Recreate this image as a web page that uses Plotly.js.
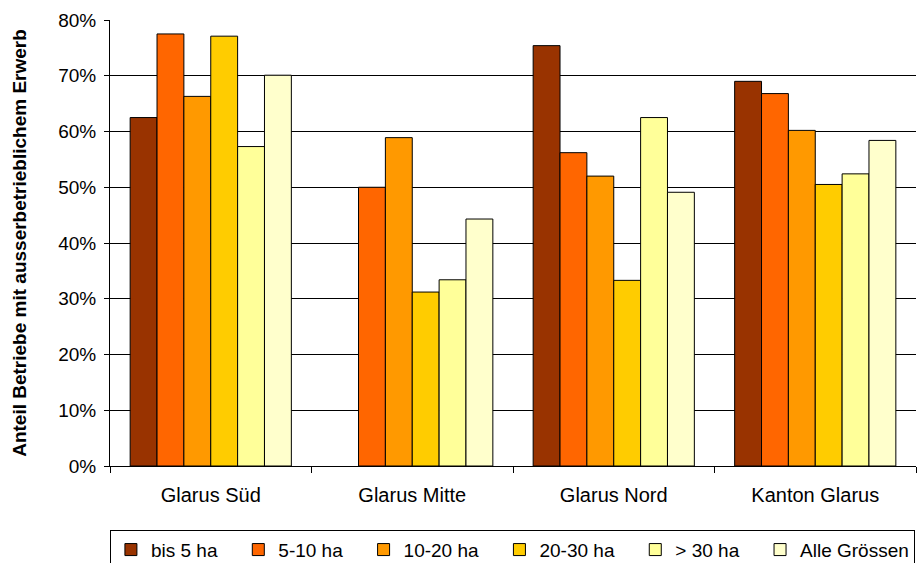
<!DOCTYPE html>
<html>
<head>
<meta charset="utf-8">
<script src="https://cdn.plot.ly/plotly-3.0.1.min.js"></script>
<style>html,body{margin:0;padding:0;background:#fff;overflow:hidden;}#chart{width:918px;height:572px;}</style>
</head>
<body>
<div id="chart"></div>
<script>
const categories = ["Glarus Süd", "Glarus Mitte", "Glarus Nord", "Kanton Glarus"];
const seriesNames = ["bis 5 ha", "5-10 ha", "10-20 ha", "20-30 ha", "> 30 ha", "Alle Grössen"];
const bis5 = [0.625, null, 0.754, 0.690];
const ha5_10 = [0.775, 0.500, 0.562, 0.668];
const ha10_20 = [0.663, 0.589, 0.520, 0.602];
const ha20_30 = [0.771, 0.312, 0.333, 0.505];
const over30 = [0.573, 0.334, 0.625, 0.524];
const alle = [0.701, 0.443, 0.491, 0.584];
const colors = ["#993300", "#FF6600", "#FF9900", "#FFCC00", "#FFFF99", "#FFFFCC"];
const seriesValues = [bis5, ha5_10, ha10_20, ha20_30, over30, alle];
const yTicks = [0, 0.1, 0.2, 0.3, 0.4, 0.5, 0.6, 0.7, 0.8];

const font = "Liberation Sans, Arial, sans-serif";
const pad = "\u00a0\u00a0\u00a0";
const traces = seriesValues.map((vals, i) => ({
  type: "bar",
  name: seriesNames[i] + (i < seriesValues.length - 1 ? pad : ""),
  x: categories,
  y: vals,
  marker: {color: colors[i], line: {color: "#000", width: 1}},
  hoverinfo: "x+y+name"
}));

const H = 572;
const layout = {
  width: 918, height: H,
  margin: {l: 110, r: 2, t: 20, b: H - 468},
  paper_bgcolor: "#fff", plot_bgcolor: "#fff",
  barmode: "group", bargap: 0.2, bargroupgap: 0,
  font: {family: font, size: 19, color: "#000"},
  showlegend: true,
  xaxis: {
    type: "category",
    tickson: "boundaries",
    ticks: "outside", ticklen: 6, tickcolor: "#000",
    showline: true, linecolor: "#000", linewidth: 1,
    showgrid: false,
    tickfont: {family: font, size: 20, color: "#000"},
    ticklabelstandoff: 11
  },
  yaxis: {
    range: [0, 0.8],
    tickvals: yTicks,
    tickformat: ".0%",
    ticks: "outside", ticklen: 5, tickcolor: "#000",
    showline: true, linecolor: "#000", linewidth: 1,
    showgrid: true, gridcolor: "#000", gridwidth: 1,
    zeroline: false,
    tickfont: {family: font, size: 19, color: "#000"},
    ticklabelstandoff: 4,
    title: {text: "Anteil Betriebe mit ausserbetrieblichem Erwerb", font: {family: font, size: 19, color: "#000", weight: "bold"}, standoff: 26}
  },
  legend: {
    orientation: "h",
    x: -0.0001, xanchor: "left",
    y: (468 - 532) / 448, yanchor: "top",
    bordercolor: "#000", borderwidth: 1,
    font: {family: font, size: 19, color: "#000"},
    itemwidth: 30,
    traceorder: "normal"
  }
};

Plotly.newPlot("chart", traces, layout, {displayModeBar: false, staticPlot: true});
</script>
</body>
</html>
